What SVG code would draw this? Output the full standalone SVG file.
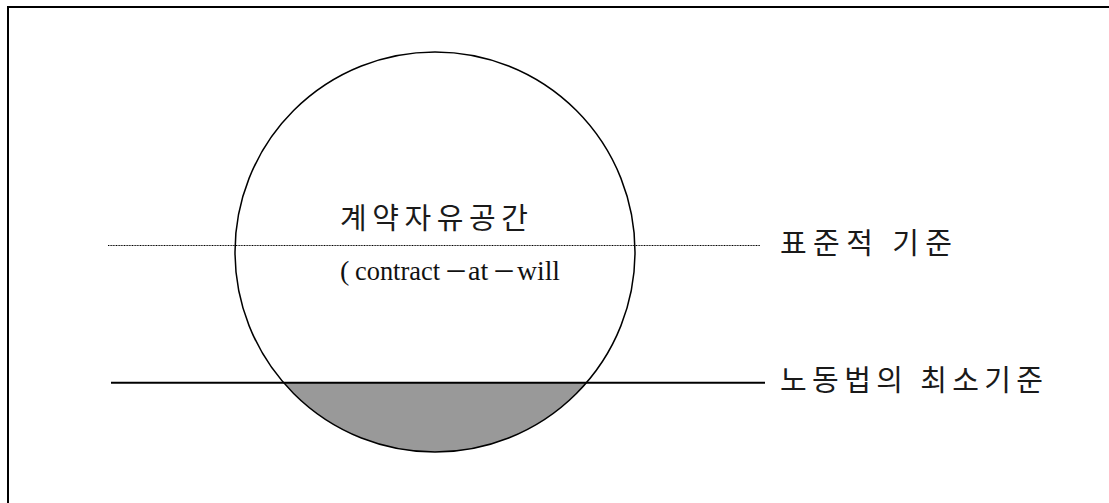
<svg xmlns="http://www.w3.org/2000/svg" width="1109" height="503" viewBox="0 0 1109 503">
<style>
.t{font-family:"Liberation Serif","Noto Sans CJK KR",serif;font-size:28px;fill:#111}
.d{font-family:"Noto Sans CJK KR",sans-serif;font-size:24px}
.k{font-family:"Noto Sans CJK KR",sans-serif;font-size:29px;fill:#1a1a1a}
</style>
<defs>
<clipPath id="below"><rect x="0" y="383" width="1109" height="120"/></clipPath>
</defs>
<rect x="8" y="7" width="1120" height="520" fill="#fff" stroke="#000" stroke-width="2"/>
<g id="circle">
<circle cx="435" cy="252" r="200" fill="#999" clip-path="url(#below)"/>
<circle cx="435" cy="252" r="200" fill="none" stroke="#000" stroke-width="1.5"/>
</g>
<g id="connectors">
<line x1="108" y1="245.5" x2="760" y2="245.5" stroke="#000" stroke-width="1.2" stroke-dasharray="1 0.6"/>
<line x1="111" y1="382.7" x2="765" y2="382.7" stroke="#000" stroke-width="2"/>
</g>
<g id="space">
<text class="k" x="340" y="229" textLength="188" lengthAdjust="spacing">계약자유공간</text>
<text class="t" y="280"><tspan x="340">(</tspan><tspan x="355" textLength="85" lengthAdjust="spacingAndGlyphs">contract</tspan><tspan class="d" x="444">－</tspan><tspan x="468">at</tspan><tspan class="d" x="492">－</tspan><tspan x="517" textLength="43" lengthAdjust="spacingAndGlyphs">will</tspan></text>
</g>
<g id="standard">
<text class="k" x="780" y="254" textLength="172" lengthAdjust="spacing">표준적 기준</text>
</g>
<g id="minimum">
<text class="k" x="780" y="391" textLength="263" lengthAdjust="spacing">노동법의 최소기준</text>
</g>
</svg>
